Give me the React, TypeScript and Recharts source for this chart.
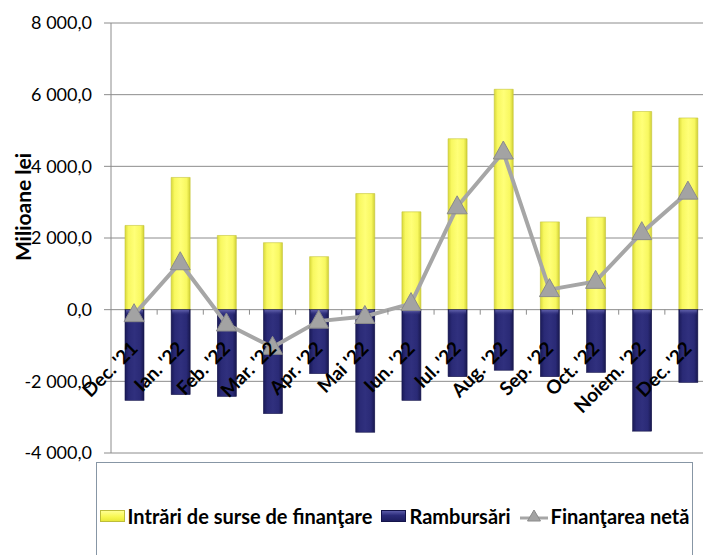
import React from 'react';
import { ComposedChart, Bar, Line, XAxis, YAxis, CartesianGrid } from 'recharts';

const categories = ["Dec. '21", "Ian. '22", "Feb. '22", "Mar. '22", "Apr. '22", "Mai '22", "Iun. '22", "Iul. '22", "Aug. '22", "Sep. '22", "Oct. '22", "Noiem. '22", "Dec. '22"];
const intrari = [2350, 3690, 2070, 1870, 1480, 3240, 2730, 4770, 6150, 2450, 2580, 5530, 5350];
const rambursari = [-2530, -2370, -2420, -2900, -1785, -3420, -2530, -1870, -1690, -1870, -1750, -3390, -2030];
const neta = [-140, 1310, -400, -1050, -320, -190, 170, 2870, 4400, 560, 790, 2150, 3280];
const yTicks = [-4000, -2000, 0, 2000, 4000, 6000, 8000];
const seriesNames = ['Intrări de surse de finanţare', 'Rambursări', 'Finanţarea netă'];

const data = categories.map((c, i) => ({ cat: c, intrari: intrari[i], rambursari: rambursari[i], neta: neta[i] }));

const FONT = "Lato, 'Open Sans', sans-serif";
const CHART_W = 712;
const CHART_H = 555;
const MARGIN = { top: 23, right: 1, left: 0, bottom: 101 };
const Y_W = 111;
const X_H = 1;
const PLOT_H = CHART_H - MARGIN.top - MARGIN.bottom - X_H;
const PLOT_W = CHART_W - MARGIN.left - MARGIN.right - Y_W;
const Y_MIN = -4000;
const Y_MAX = 8000;
const ZERO_Y = MARGIN.top + (PLOT_H * Y_MAX) / (Y_MAX - Y_MIN);
const GRID = '#8c8c8c';

const fmt = (v: number) => {
  const neg = v < 0;
  const s = Math.floor(Math.abs(v)).toString().replace(/\B(?=(\d{3})+(?!\d))/g, ' ');
  return (neg ? '-' : '') + s + ',0';
};

const XTick = (props: any) => {
  const { x, payload } = props;
  const half = PLOT_W / categories.length / 2;
  return (
    <g>
      <line x1={x + half} x2={x + half} y1={ZERO_Y} y2={ZERO_Y + 5} stroke={GRID} />
      <text
        transform={`translate(${x + 5},${ZERO_Y + 40}) rotate(-45)`}
        textAnchor="end"
        fontFamily={FONT}
        fontWeight={700}
        fontSize={19}
        fill="#000"
      >
        {payload.value}
      </text>
    </g>
  );
};

const YLabel = (props: any) => {
  const vb = props.viewBox || { x: 0, y: 0, width: 0, height: 0 };
  const cx = vb.x + 22;
  const cy = vb.y + vb.height / 2 - 31;
  return (
    <text
      transform={`translate(${cx},${cy}) rotate(-90)`}
      textAnchor="middle"
      dominantBaseline="central"
      fontFamily={FONT}
      fontWeight={700}
      fontSize={21}
      fill="#000"
    >
      Milioane lei
    </text>
  );
};

const NavyBar = (props: any) => {
  const { x, y, width, height } = props;
  if (x == null || y == null || !width || !height) return null;
  const top = Math.min(y, y + height);
  const h = Math.abs(height);
  return (
    <g>
      <rect x={x} y={top} width={width} height={h} fill="url(#gN)" stroke="#15154a" strokeWidth={0.6} />
      <rect x={x + 1} y={top + 0.5} width={width - 2} height={Math.min(5, h)} fill="url(#gNTop)" />
    </g>
  );
};

const Tri = (props: any) => {
  const { cx, cy } = props;
  if (cx == null || cy == null) return null;
  return (
    <polygon
      points={`${cx},${cy - 11} ${cx + 10},${cy + 7} ${cx - 10},${cy + 7}`}
      fill="#a3a3a3"
      stroke="#8a8a8a"
      strokeWidth={1}
    />
  );
};

const Swatch = ({ kind }: { kind: 'y' | 'n' | 'l' }) => {
  if (kind === 'l') {
    return (
      <svg width={28} height={16} style={{ display: 'block' }}>
        <line x1={0} y1={10} x2={28} y2={10} stroke="#a6a6a6" strokeWidth={3} />
        <polygon points="14,2 20.5,13 7.5,13" fill="#a3a3a3" stroke="#8a8a8a" strokeWidth={1} />
      </svg>
    );
  }
  const bg =
    kind === 'y'
      ? 'linear-gradient(to bottom, #ffff90, #f7f750 60%, #e8e83a)'
      : 'linear-gradient(to bottom, #5a5aa8, #2a2a78 45%, #1e1e60)';
  const bd = kind === 'y' ? '#bdbd3a' : '#14144a';
  return <div style={{ width: 25, height: 12, background: bg, border: `1px solid ${bd}`, boxSizing: 'border-box' }} />;
};

const legendItems: { kind: 'y' | 'n' | 'l'; name: string }[] = [
  { kind: 'y', name: seriesNames[0] },
  { kind: 'n', name: seriesNames[1] },
  { kind: 'l', name: seriesNames[2] },
];

export default function App() {
  return (
    <div style={{ position: 'absolute', left: 0, top: 0, width: 703, height: 555, overflow: 'hidden', background: '#fff' }}>
      <ComposedChart width={CHART_W} height={CHART_H} data={data} margin={MARGIN} stackOffset="sign">
        <defs>
          <linearGradient id="gY" x1="0" y1="0" x2="1" y2="0">
            <stop offset="0%" stopColor="#d9d93a" />
            <stop offset="18%" stopColor="#f8f860" />
            <stop offset="50%" stopColor="#ffff78" />
            <stop offset="82%" stopColor="#f8f860" />
            <stop offset="100%" stopColor="#d0d035" />
          </linearGradient>
          <linearGradient id="gN" x1="0" y1="0" x2="1" y2="0">
            <stop offset="0%" stopColor="#1a1a58" />
            <stop offset="20%" stopColor="#2a2a76" />
            <stop offset="50%" stopColor="#30307e" />
            <stop offset="80%" stopColor="#2a2a76" />
            <stop offset="100%" stopColor="#18184f" />
          </linearGradient>
          <linearGradient id="gNTop" x1="0" y1="0" x2="0" y2="1">
            <stop offset="0%" stopColor="#6a6ab4" stopOpacity={0.9} />
            <stop offset="100%" stopColor="#30307e" stopOpacity={0} />
          </linearGradient>
        </defs>
        <CartesianGrid vertical={false} stroke={GRID} strokeWidth={1} />
        <XAxis
          dataKey="cat"
          height={X_H}
          axisLine={false}
          tickLine={false}
          interval={0}
          tick={<XTick />}
        />
        <YAxis
          width={Y_W}
          domain={[Y_MIN, Y_MAX]}
          ticks={yTicks}
          interval={0}
          allowDataOverflow
          tickFormatter={fmt}
          tick={{ fontSize: 18, fill: '#000', fontFamily: FONT }}
          tickSize={7}
          tickMargin={12}
          axisLine={{ stroke: GRID }}
          tickLine={{ stroke: GRID }}
          label={<YLabel />}
        />
        <Bar dataKey="intrari" name={seriesNames[0]} stackId="s" fill="url(#gY)" stroke="#c4c43a" strokeWidth={0.6} barSize={19} isAnimationActive={false} />
        <Bar dataKey="rambursari" name={seriesNames[1]} stackId="s" fill="url(#gN)" barSize={19} shape={<NavyBar />} isAnimationActive={false} />
        <Line dataKey="neta" name={seriesNames[2]} stroke="#a6a6a6" strokeWidth={4} dot={<Tri />} activeDot={false} isAnimationActive={false} />
      </ComposedChart>
      <div
        style={{
          position: 'absolute',
          left: 96,
          top: 462,
          width: 597,
          height: 108,
          border: '1.5px solid #8796a5',
          boxSizing: 'border-box',
          background: '#fff',
          display: 'flex',
          alignItems: 'center',
          justifyContent: 'center',
          fontFamily: FONT,
          fontWeight: 700,
          fontSize: 20,
          color: '#000',
        }}
      >
        {legendItems.map((it, i) => (
          <div key={it.name} style={{ display: 'flex', alignItems: 'center', marginLeft: i === 0 ? 0 : 9 }}>
            <Swatch kind={it.kind} />
            <span style={{ marginLeft: 3, whiteSpace: 'nowrap' }}>{it.name}</span>
          </div>
        ))}
      </div>
    </div>
  );
}
